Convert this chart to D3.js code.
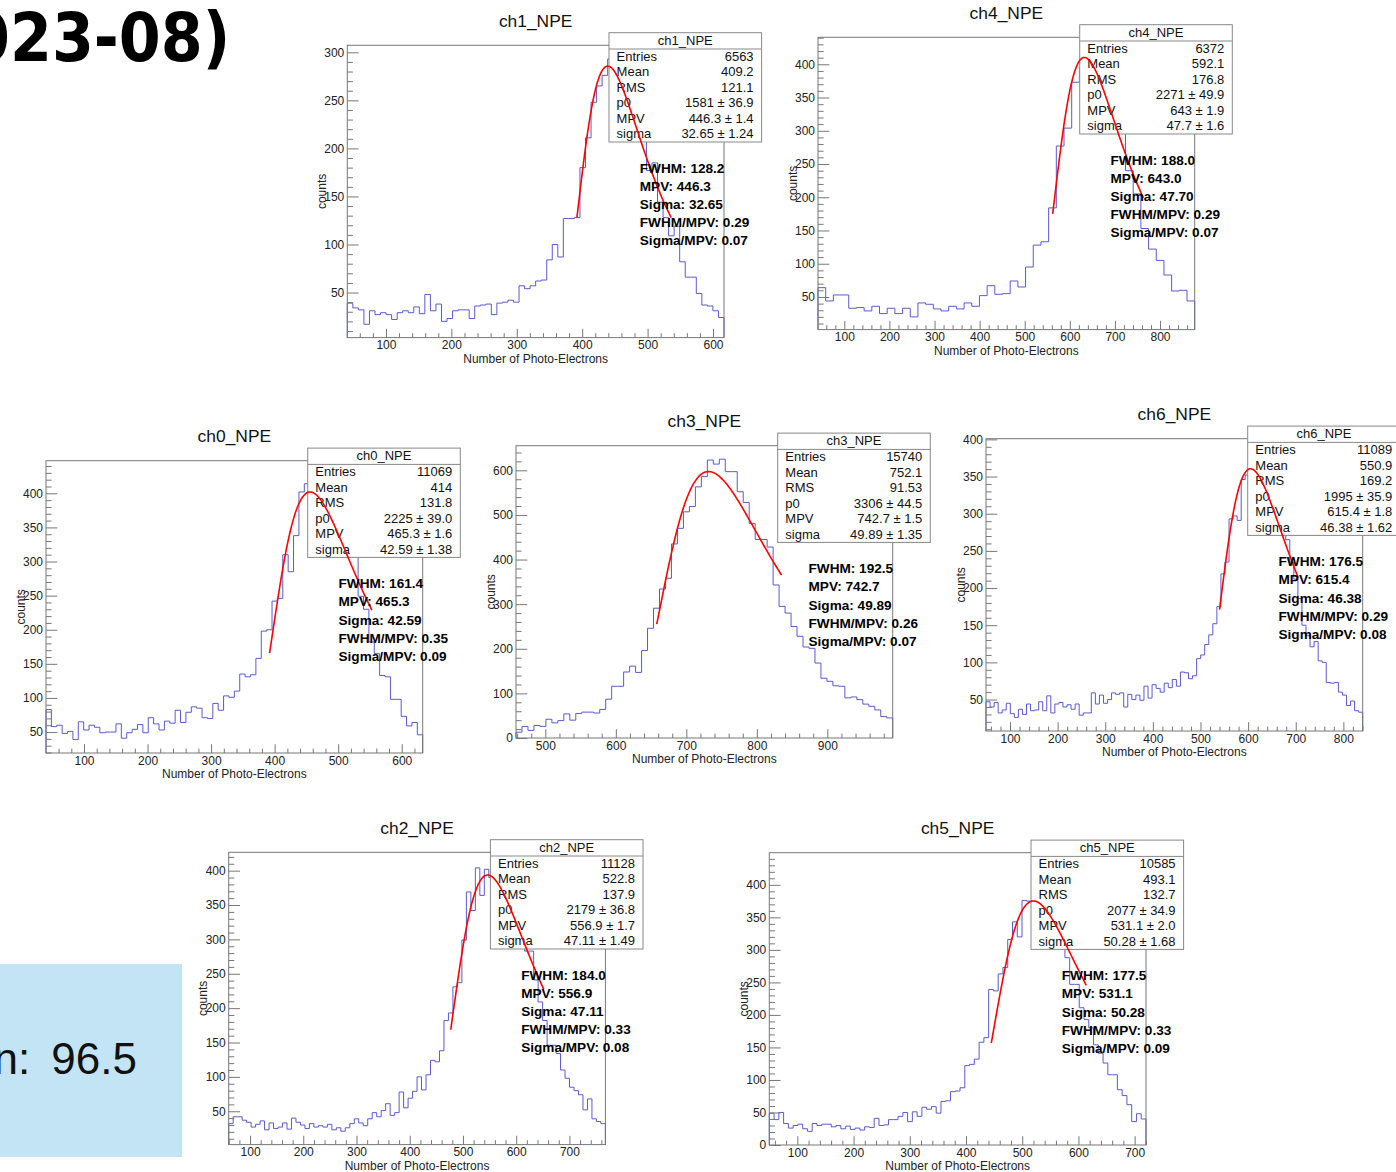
<!DOCTYPE html>
<html lang="en">
<head>
<meta charset="UTF-8">
<title>NPE spectra</title>
<script src="https://d3js.org/d3.v7.min.js"></script>
<style>
  body { margin: 0; background: #fff; }
  text { font-family: "Liberation Sans", Arial, Helvetica, sans-serif; }
</style>
</head>
<body>
<script>
// ---- values ----
const statLabels = ["Entries", "Mean", "RMS", "p0", "MPV", "sigma"];
const summaryLabels = ["FWHM", "MPV", "Sigma", "FWHM/MPV", "Sigma/MPV"];

// ch1
const ch1Counts = [39,34,32,17,31,27,29,27,22,29, 31,29,35,28,48,31,38,20,23,31,
  32,32,23,36,37,38,27,39,40,42, 40,57,54,57,62,63,84,100,87,127,
  127,128,180,211,248,265,276,293,290,280, 262,245,228,212,177,185,144,128,109,119,
  82,66,66,49,37,36,31,24];
const ch1XRange = [40.9, 616.8];
const ch1YRange = [3.1, 307.3];
const ch1Stats = ["6563", "409.2", "121.1"];
const ch1Fit = [1581, 446.3, 32.65];
const ch1FitErr = ["36.9", "1.4", "1.24"];
const ch1FitRange = [392, 536];
const ch1Summary = ["128.2", "446.3", "32.65", "0.29", "0.07"];

// ch4
const ch4Counts = [64,44,53,53,33,34,29,36,25,33, 25,33,20,41,39,32,29,36,32,41,
  36,52,67,54,55,74,65,95,128,133, 184,277,304,373,395,405,390,365,335,310,
  240,205,153,122,105,83,59,60,44];
const ch4XRange = [41.6, 876.9];
const ch4YRange = [0.9, 440.6];
const ch4Stats = ["6372", "592.1", "176.8"];
const ch4Fit = [2271, 643, 47.7];
const ch4FitErr = ["49.9", "1.9", "1.6"];
const ch4FitRange = [562, 763];
const ch4Summary = ["188.0", "643.0", "47.70", "0.29", "0.07"];

// ch0
const ch0Counts = [83,58,60,48,51,39,65,53,60,57, 49,50,50,62,41,49,54,61,49,71,
  62,53,66,63,82,64,79,87,85,71, 70,92,82,103,101,110,135,131,134,158,
  198,200,242,246,310,285,338,402,414,405, 395,380,372,355,345,330,320,312,249,230,
  182,165,133,131,98,98,73,59,64,46];
const ch0XRange = [40.2, 633];
const ch0YRange = [19.3, 447.8];
const ch0Stats = ["11069", "414", "131.8"];
const ch0Fit = [2225, 465.3, 42.59];
const ch0FitErr = ["39.0", "1.6", "1.38"];
const ch0FitRange = [392, 553];
const ch0Summary = ["161.4", "465.3", "42.59", "0.35", "0.09"];

// ch3
const ch3Counts = [13,26,17,28,26,42,34,39,54,40, 55,58,58,56,64,87,116,116,148,161,
  147,196,246,291,334,358,435,470,507,519, 563,586,623,614,625,597,597,552,528,481,
  445,445,428,343,295,280,250,228,204,201, 168,134,127,117,116,90,92,86,76,71,
  63,48,45];
const ch3XRange = [458.4, 992.7];
const ch3YRange = [0, 655.2];
const ch3Stats = ["15740", "752.1", "91.53"];
const ch3Fit = [3306, 742.7, 49.89];
const ch3FitErr = ["44.5", "1.5", "1.35"];
const ch3FitRange = [658, 835];
const ch3Summary = ["192.5", "742.7", "49.89", "0.26", "0.07"];

// ch6
const ch6Counts = [47,40,46,32,36,45,31,26,37,30, 44,35,36,47,35,55,32,44,46,40,
  43,37,44,29,32,32,59,44,56,45, 50,59,57,59,40,57,50,56,49,68,
  52,70,65,60,72,66,77,68,87,86, 78,82,105,110,124,137,152,175,219,235,
  293,297,291,346,352,345,330,320,305,298, 290,280,275,272,265,235,212,186,150,136,
  121,128,102,100,73,72,73,60,56,42, 48,35,33];
const ch6XRange = [49.6, 840.6];
const ch6YRange = [7.7, 400.9];
const ch6Stats = ["11089", "550.9", "169.2"];
const ch6Fit = [1995, 615.4, 46.38];
const ch6FitErr = ["35.9", "1.8", "1.62"];
const ch6FitRange = [540, 705];
const ch6Summary = ["176.5", "615.4", "46.38", "0.29", "0.08"];

// ch2
const ch2Counts = [32,42,42,37,34,27,31,36,23,33, 25,27,33,24,40,34,30,25,32,27,
  29,27,31,23,26,21,26,32,39,33, 29,39,48,42,51,61,44,48,78,55,
  69,79,100,81,103,124,122,138,182,193, 231,237,299,369,342,404,364,402,390,372,
  360,345,330,315,300,290,283,283,241,209, 182,146,146,134,110,98,85,80,74,52,
  68,39,35,32];
const ch2XRange = [59.9, 767.6];
const ch2YRange = [1.5, 426.7];
const ch2Stats = ["11128", "522.8", "137.9"];
const ch2Fit = [2179, 556.9, 47.11];
const ch2FitErr = ["36.8", "1.7", "1.49"];
const ch2FitRange = [477, 652];
const ch2Summary = ["184.0", "556.9", "47.11", "0.33", "0.08"];

// ch5
const ch5Counts = [49,39,50,33,26,30,32,25,21,33, 30,32,32,28,30,25,29,24,26,23,
  28,27,41,30,31,39,39,44,50,36, 51,44,58,55,59,49,67,68,82,83,
  88,122,124,132,158,165,239,237,263,273, 316,343,320,376,375,360,352,340,325,318,
  308,302,288,247,247,211,193,180,154,141, 126,108,108,85,76,62,36,48,40];
const ch5XRange = [50.1, 720.2];
const ch5YRange = [0, 449.4];
const ch5Stats = ["10585", "493.1", "132.7"];
const ch5Fit = [2077, 531.1, 50.28];
const ch5FitErr = ["34.9", "2.0", "1.68"];
const ch5FitRange = [445, 614];
const ch5Summary = ["177.5", "531.1", "50.28", "0.33", "0.09"];

// ---- layout ----
const W = 376.7, H = 292.3;
const panels = [
  {name: "ch1_NPE", x: 347.3, y: 45.3, counts: ch1Counts, xr: ch1XRange, yr: ch1YRange, stats: ch1Stats, fit: ch1Fit, err: ch1FitErr, fr: ch1FitRange, sum: ch1Summary, yStep: 50},
  {name: "ch4_NPE", x: 818, y: 37.3, counts: ch4Counts, xr: ch4XRange, yr: ch4YRange, stats: ch4Stats, fit: ch4Fit, err: ch4FitErr, fr: ch4FitRange, sum: ch4Summary, yStep: 50},
  {name: "ch0_NPE", x: 46, y: 460.7, counts: ch0Counts, xr: ch0XRange, yr: ch0YRange, stats: ch0Stats, fit: ch0Fit, err: ch0FitErr, fr: ch0FitRange, sum: ch0Summary, yStep: 50},
  {name: "ch3_NPE", x: 516, y: 445.7, counts: ch3Counts, xr: ch3XRange, yr: ch3YRange, stats: ch3Stats, fit: ch3Fit, err: ch3FitErr, fr: ch3FitRange, sum: ch3Summary, yStep: 100},
  {name: "ch6_NPE", x: 986, y: 438.7, counts: ch6Counts, xr: ch6XRange, yr: ch6YRange, stats: ch6Stats, fit: ch6Fit, err: ch6FitErr, fr: ch6FitRange, sum: ch6Summary, yStep: 50},
  {name: "ch2_NPE", x: 228.7, y: 852.3, counts: ch2Counts, xr: ch2XRange, yr: ch2YRange, stats: ch2Stats, fit: ch2Fit, err: ch2FitErr, fr: ch2FitRange, sum: ch2Summary, yStep: 50},
  {name: "ch5_NPE", x: 769.3, y: 852.7, counts: ch5Counts, xr: ch5XRange, yr: ch5YRange, stats: ch5Stats, fit: ch5Fit, err: ch5FitErr, fr: ch5FitRange, sum: ch5Summary, yStep: 50}
];

// Landau density as in ROOT's TMath::Landau (CERNLIB denlan), used for the fit curve
function landau(x, mpv, sigma) {
  const p1 = [0.4259894875, -0.1249762550, 0.03984243700, -0.006298287635, 0.001511162253];
  const q1 = [1.0, -0.3388260629, 0.09594393323, -0.01608042283, 0.003778942063];
  const p2 = [0.1788541609, 0.1173957403, 0.01488850518, -0.001394989411, 0.0001283617211];
  const q2 = [1.0, 0.7428795082, 0.3153932961, 0.06694219548, 0.008790609714];
  const p3 = [0.1788544503, 0.09359161662, 0.006325387654, 0.00006611667319, -0.000002031049101];
  const q3 = [1.0, 0.6097809921, 0.2560616665, 0.04746722384, 0.006957301675];
  const p4 = [0.9874054407, 118.6723273, 849.2794360, -743.7792444, 427.0262186];
  const q4 = [1.0, 106.8615961, 337.6496214, 2016.712389, 1597.063511];
  const a1 = [0.04166666667, -0.01996527778, 0.02709538966];
  const poly = (c, t) => c[0] + (c[1] + (c[2] + (c[3] + c[4] * t) * t) * t) * t;
  const v = (x - mpv) / sigma;
  if (v < -5.5) {
    const u = Math.exp(v + 1);
    if (u < 1e-10) return 0;
    return 0.3989422803 * (Math.exp(-1 / u) / Math.sqrt(u)) * (1 + (a1[0] + (a1[1] + a1[2] * u) * u) * u);
  }
  if (v < -1) {
    const u = Math.exp(-v - 1);
    return Math.exp(-u) * Math.sqrt(u) * poly(p1, v) / poly(q1, v);
  }
  if (v < 1) return poly(p2, v) / poly(q2, v);
  if (v < 5) return poly(p3, v) / poly(q3, v);
  const u = 1 / v;
  return u * u * poly(p4, u) / poly(q4, u);
}

const svg = d3.select("body").append("svg")
  .attr("width", 1396)
  .attr("height", 1172);

// clipped page title in the top-left corner
svg.append("text")
  .attr("transform", "translate(-32,61) scale(0.9,1)")
  .style("font-family", "'DejaVu Sans', sans-serif")
  .style("font-weight", "bold")
  .style("font-size", "67px")
  .attr("fill", "#000")
  .text("023-08)");

// blue note box bottom-left
svg.append("rect")
  .attr("x", 0).attr("y", 964).attr("width", 182).attr("height", 193)
  .attr("fill", "#c3e4f5");
svg.append("text")
  .attr("x", 137).attr("y", 1074)
  .attr("text-anchor", "end")
  .style("font-size", "44px")
  .style("word-spacing", "9px")
  .attr("fill", "#111")
  .text("n: 96.5");

function styleAxis(sel) {
  sel.select(".domain").remove();
  sel.selectAll("line").attr("stroke", "#777");
  sel.selectAll("text").style("font-size", "12px").attr("fill", "#222");
}

function drawPanel(p) {
  const g = svg.append("g");
  const x = d3.scaleLinear().domain(p.xr).range([p.x, p.x + W]);
  const y = d3.scaleLinear().domain(p.yr).range([p.y + H, p.y]);

  // histogram outline
  const n = p.counts.length;
  const bw = (p.xr[1] - p.xr[0]) / n;
  const pts = [[p.xr[0], p.yr[0]]];
  p.counts.forEach((c, i) => {
    pts.push([p.xr[0] + i * bw, c], [p.xr[0] + (i + 1) * bw, c]);
  });
  pts.push([p.xr[1], p.yr[0]]);
  g.append("path")
    .attr("d", d3.line().x(d => x(d[0])).y(d => y(d[1]))(pts))
    .attr("fill", "none")
    .attr("stroke", "#5a5ad2")
    .attr("stroke-width", 1);

  // axes, ticks pointing into the frame
  const xMajor = d3.range(Math.ceil(p.xr[0] / 100) * 100, p.xr[1], 100);
  const xMinor = d3.range(Math.ceil(p.xr[0] / 20) * 20, p.xr[1], 20).filter(v => v % 100 !== 0);
  const ys = p.yStep, ym = ys / 5;
  const yMajor = d3.range(Math.ceil(p.yr[0] / ys) * ys, p.yr[1], ys);
  const yMinor = d3.range(Math.ceil(p.yr[0] / ym) * ym, p.yr[1], ym).filter(v => v % ys !== 0);

  g.append("g").attr("transform", `translate(0,${p.y + H})`)
    .call(d3.axisBottom(x).tickValues(xMajor).tickSize(-8.8).tickPadding(3).tickFormat(d3.format("d")))
    .call(styleAxis);
  g.append("g").attr("transform", `translate(0,${p.y + H})`)
    .call(d3.axisBottom(x).tickValues(xMinor).tickSize(-4.4).tickFormat(""))
    .call(styleAxis);
  g.append("g").attr("transform", `translate(${p.x},0)`)
    .call(d3.axisLeft(y).tickValues(yMajor).tickSize(-11.3).tickPadding(3).tickFormat(d3.format("d")))
    .call(styleAxis);
  g.append("g").attr("transform", `translate(${p.x},0)`)
    .call(d3.axisLeft(y).tickValues(yMinor).tickSize(-5.6).tickFormat(""))
    .call(styleAxis);

  g.append("rect")
    .attr("x", p.x).attr("y", p.y).attr("width", W).attr("height", H)
    .attr("fill", "none").attr("stroke", "#777");

  // axis titles
  g.append("text")
    .attr("x", p.x + W / 2).attr("y", p.y + H + 25.4)
    .attr("text-anchor", "middle").style("font-size", "12px").attr("fill", "#222")
    .text("Number of Photo-Electrons");
  g.append("text")
    .attr("transform", `translate(${p.x - 21.3},${p.y + H / 2}) rotate(-90)`)
    .attr("text-anchor", "middle").style("font-size", "12px").attr("fill", "#222")
    .text("counts");

  // title
  g.append("text")
    .attr("x", p.x + W / 2).attr("y", p.y - 18.6)
    .attr("text-anchor", "middle").style("font-size", "17.4px").attr("fill", "#111")
    .text(p.name);

  // stats box
  const bx = p.x + W - 115, by = p.y - 12.6, bW = 152.6, bH = 109.3;
  g.append("rect").attr("x", bx).attr("y", by).attr("width", bW).attr("height", bH)
    .attr("fill", "#fff").attr("stroke", "#888");
  g.append("line").attr("x1", bx).attr("x2", bx + bW).attr("y1", by + 16.3).attr("y2", by + 16.3)
    .attr("stroke", "#888");
  g.append("text").attr("x", bx + bW / 2).attr("y", by + 12.3)
    .attr("text-anchor", "middle").style("font-size", "13px").attr("fill", "#111")
    .text(p.name);
  const values = p.stats.concat(p.fit.map((v, i) => `${v} \u00b1 ${p.err[i]}`));
  statLabels.forEach((lab, i) => {
    const yy = by + 28.3 + i * 15.45;
    g.append("text").attr("x", bx + 7.6).attr("y", yy)
      .style("font-size", "13px").attr("fill", "#111").text(lab);
    g.append("text").attr("x", bx + bW - 8).attr("y", yy)
      .attr("text-anchor", "end").style("font-size", "13px").attr("fill", "#111").text(values[i]);
  });

  // Landau fit curve with the fitted parameters
  const xs = d3.range(0, 121).map(k => p.fr[0] + (p.fr[1] - p.fr[0]) * k / 120);
  g.append("path")
    .attr("d", d3.line().x(d => x(d)).y(d => y(p.fit[0] * landau(d, p.fit[1], p.fit[2])))(xs))
    .attr("fill", "none").attr("stroke", "#ff0000").attr("stroke-width", 1.6);

  // summary text
  summaryLabels.forEach((lab, i) => {
    g.append("text").attr("x", p.x + 292.5).attr("y", p.y + 127.5 + i * 18.15)
      .style("font-size", "13.6px").style("font-weight", "bold").attr("fill", "#000")
      .text(`${lab}: ${p.sum[i]}`);
  });
}

panels.forEach(drawPanel);
</script>
</body>
</html>
